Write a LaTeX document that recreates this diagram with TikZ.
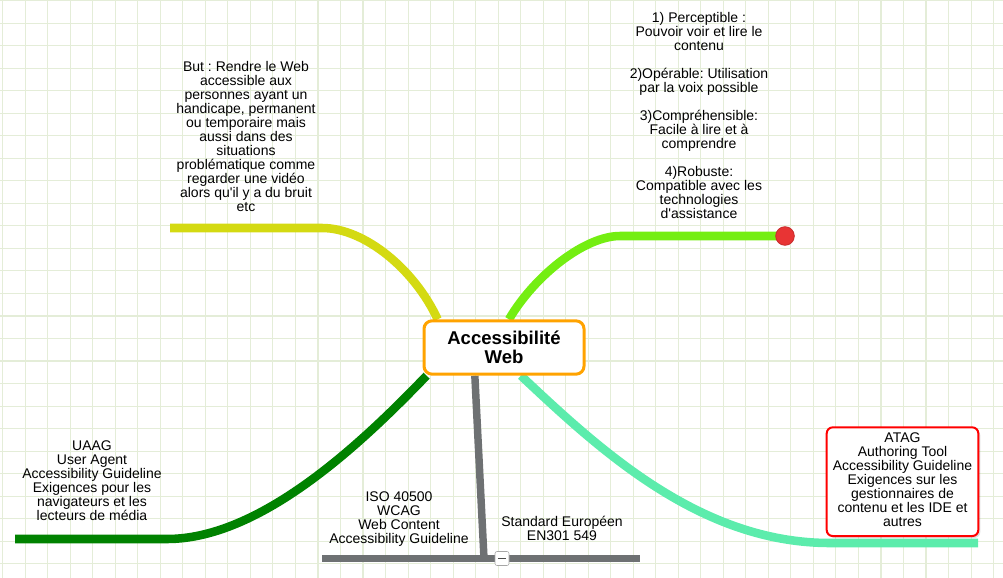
\documentclass[tikz,border=0pt]{standalone}
\usepackage{fontspec}
\setmainfont{Liberation Sans}
\usepackage{xcolor}
\usepackage{tikz}
\usetikzlibrary{backgrounds,shadows}
\frenchspacing

\definecolor{gridc}{RGB}{228,237,216}
\definecolor{yellowbr}{RGB}{212,218,18}
\definecolor{limebr}{RGB}{116,238,18}
\definecolor{darkbr}{RGB}{0,130,0}
\definecolor{graybr}{RGB}{110,113,115}
\definecolor{aquabr}{RGB}{92,236,172}
\definecolor{rootc}{RGB}{255,163,0}
\definecolor{dotc}{RGB}{232,52,52}

\begin{document}
\begin{tikzpicture}[x=0.75pt,y=-0.75pt,
  txt/.style={align=center, inner sep=0pt, font=\fontsize{10.5}{10.5}\selectfont},
  branch/.style={line width=6.4pt},
  gridline/.style={gridc, line width=0.8pt}]
  \useasboundingbox (0,0) rectangle (1003,578);
  \node[draw=rootc, line width=2.25pt, rounded corners=6pt, fill=white, align=center,
        minimum width=120pt, minimum height=40pt, inner sep=0pt,
        font=\bfseries\fontsize{13.9}{13.9}\selectfont] (root) at (504,347.5) {Accessibilité\\Web};

  \coordinate (yk) at (322,228);
  \coordinate (ye) at (170,228);
  \coordinate (lk) at (620,236);
  \coordinate (dk) at (167,539);
  \coordinate (de) at (15,539);
  \coordinate (gj) at (484,558.5);
  \coordinate (gl) at (322,558.5);
  \coordinate (gr) at (640,558.5);
  \coordinate (ak) at (830,543);
  \coordinate (ae) at (978,543);

  \node[circle, fill=dotc, draw=dotc!85!black, line width=0.6pt, minimum size=14pt, inner sep=0pt] (dot) at (785,236) {};
  \node[draw=red, line width=1.5pt, rounded corners=4.5pt, fill=white, minimum width=113.7pt, minimum height=81.5pt,
        drop shadow={opacity=0.25, shadow xshift=1.5pt, shadow yshift=-1.5pt}] (atag) at (902.5,481.7) {};
  \node[txt] (atagtxt) at (902.5,480) {ATAG\\Authoring Tool\\Accessibility Guideline\\Exigences sur les\\gestionnaires de\\contenu et les IDE et\\autres};

  \begin{pgfonlayer}{background}
    \foreach \i in {0,...,44} \draw[gridline] (2.7+22.52*\i,0) -- (2.7+22.52*\i,578);
    \foreach \j in {0,...,25} \draw[gridline] (0,0.7+22.52*\j) -- (1003,0.7+22.52*\j);
    \draw[branch, yellowbr] (root.157) .. controls (415,270) and (365,228) .. (yk) -- (ye);
    \draw[branch, limebr] (root.80) .. controls (535,275) and (585,236) .. (lk) -- (dot.center);
    \draw[branch, darkbr] (root.200) .. controls (360,445) and (260,539) .. (dk) -- (de);
    \draw[branch, aquabr] (root.301) .. controls (600,450) and (700,543) .. (ak) -- (ae);
    \draw[graybr, line width=5.6pt] (root.224) -- (gj);
    \draw[graybr, line width=5.4pt] (gl) -- (gr);
  \end{pgfonlayer}
  \node[draw=black!35, fill=white, rounded corners=1.5pt, minimum size=10.5pt, inner sep=0pt] (fold) at (502,558.5) {};
  \draw[black!70, line width=1.3pt] ([xshift=-2.8pt]fold.center) -- ([xshift=2.8pt]fold.center);

  \node[txt] (butnote) at (246,136) {But : Rendre le Web\\accessible aux\\personnes ayant un\\handicape, permanent\\ou temporaire mais\\aussi dans des\\situations\\problématique comme\\regarder une vidéo\\alors qu\textquotesingle il y a du bruit\\etc};
  \node[txt] (principes) at (699,115) {1) Perceptible :\\Pouvoir voir et lire le\\contenu\\[10.5pt]2)Opérable: Utilisation\\par la voix possible\\[10.5pt]3)Compréhensible:\\Facile à lire et à\\comprendre\\[10.5pt]4)Robuste:\\Compatible avec les\\technologies\\d\textquotesingle assistance};
  \node[txt] (uaag) at (92,481) {UAAG\\User Agent\\Accessibility Guideline\\Exigences pour les\\navigateurs et les\\lecteurs de média};
  \node[txt] (wcag) at (399,519) {ISO 40500\\WCAG\\Web Content\\Accessibility Guideline};
  \node[txt] (en301) at (562,528) {Standard Européen\\EN301 549};
\end{tikzpicture}
\end{document}
